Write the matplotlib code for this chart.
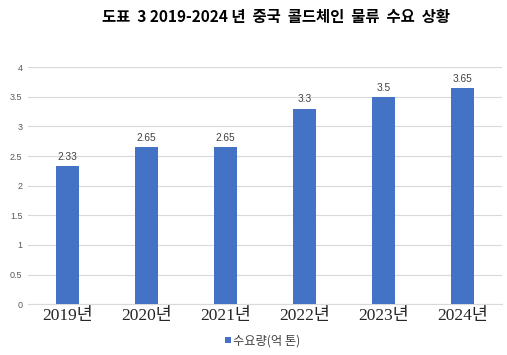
import numpy as np
import matplotlib
matplotlib.use("Agg")
import matplotlib.pyplot as plt
from matplotlib.patches import Patch

plt.rcParams['font.family'] = ['Noto Sans CJK KR', 'DejaVu Sans']

years = ['2019년', '2020년', '2021년', '2022년', '2023년', '2024년']
demand = [2.33, 2.65, 2.65, 3.3, 3.5, 3.65]
labels = ['2.33', '2.65', '2.65', '3.3', '3.5', '3.65']
series_name = '수요량(억 톤)'
title = '도표  3 2019-2024 년  중국  콜드체인  물류  수요  상황'

bar_color = '#4472C4'

fig = plt.figure(figsize=(5.07, 3.55), dpi=100)
ax = fig.add_axes([0.055, 0.143, 0.935, 0.668])

x = np.arange(len(years))
ax.bar(x, demand, width=0.29, color=bar_color, zorder=3)
for xi, v, lab in zip(x, demand, labels):
    ax.text(xi, v + 0.07, lab, ha='center', va='bottom', fontsize=7.3,
            color='#404040', family=['Liberation Sans', 'DejaVu Sans'])

ax.set_xlim(-0.5, len(years) - 0.5)
ax.set_ylim(0, 4)
ax.set_yticks(np.arange(0, 4.01, 0.5))
ax.set_yticklabels(['0', '0.5', '1', '1.5', '2', '2.5', '3', '3.5', '4'],
                   fontsize=6.5, color='#595959', family=['Liberation Sans', 'DejaVu Sans'])
ax.set_xticks(x)
ax.set_xticklabels(years, fontsize=12.5, color='#262626',
                   family=['Liberation Serif', 'Noto Sans CJK KR'])
ax.grid(axis='y', color='#D9D9D9', linewidth=0.8, zorder=0)
ax.tick_params(axis='both', length=0, pad=4)
ax.tick_params(axis='x', pad=3)
for s in ['top', 'right', 'left']:
    ax.spines[s].set_visible(False)
ax.spines['bottom'].set_color('#D9D9D9')

fig.text(0.545, 0.952, title, ha='center', va='center', fontsize=11.1,
         fontweight='bold', color='black')

handle = Patch(facecolor=bar_color, edgecolor='none')
fig.legend([handle], [series_name], loc='center', bbox_to_anchor=(0.518, 0.04),
           frameon=False, fontsize=8.8, handlelength=0.45, handleheight=0.45,
           handletextpad=0.15, labelcolor='#404040')

fig.savefig('out.png', dpi=100)
